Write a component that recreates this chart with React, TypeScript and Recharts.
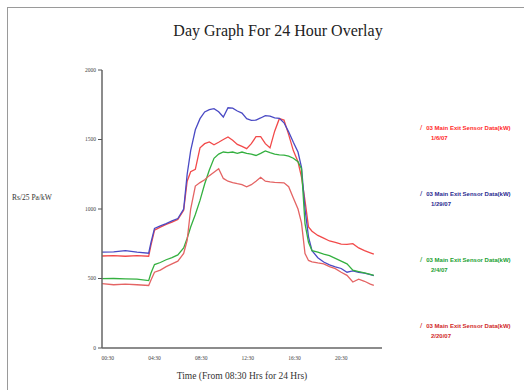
import React from 'react';
import { LineChart, Line, XAxis, YAxis } from 'recharts';

const hours = [0, 1, 2, 3, 4, 4.2, 4.5, 5, 5.5, 6, 6.5, 7, 7.3, 7.6, 8, 8.4, 8.8, 9.2, 9.6, 10, 10.4, 10.8, 11.2, 11.6, 12, 12.4, 12.8, 13.2, 13.6, 14, 14.4, 14.8, 15.2, 15.6, 16, 16.4, 16.8, 17.1, 17.4, 17.7, 18, 18.5, 19, 19.5, 20, 20.5, 21, 21.5, 22, 22.5, 23, 23.3];

const seriesRedUpper = [662, 665, 660, 665, 660, 740, 847, 870, 890, 905, 925, 990, 1200, 1268, 1285, 1440, 1470, 1482, 1462, 1480, 1500, 1518, 1495, 1465, 1450, 1434, 1470, 1520, 1520, 1470, 1440, 1560, 1650, 1640, 1535, 1420, 1340, 1230, 1060, 871, 840, 810, 790, 770, 760, 748, 745, 751, 720, 700, 685, 675];
const seriesBlue = [690, 692, 700, 690, 682, 760, 860, 878, 895, 915, 931, 1000, 1250, 1420, 1570, 1650, 1698, 1715, 1722, 1700, 1662, 1728, 1725, 1705, 1690, 1650, 1638, 1640, 1655, 1672, 1668, 1656, 1652, 1620, 1555, 1480, 1410, 1300, 1000, 800, 700, 650, 619, 598, 583, 572, 545, 555, 545, 538, 528, 520];
const seriesGreen = [499, 500, 498, 495, 485, 540, 600, 615, 635, 650, 670, 720, 790, 870, 960, 1062, 1180, 1280, 1365, 1395, 1410, 1405, 1410, 1400, 1410, 1400, 1395, 1385, 1400, 1418, 1405, 1395, 1390, 1388, 1380, 1365, 1340, 1290, 895, 760, 700, 690, 675, 665, 645, 625, 605, 560, 550, 540, 530, 523];
const seriesRedLower = [463, 455, 460, 455, 450, 490, 545, 560, 585, 605, 625, 680, 775, 1000, 1165, 1190, 1210, 1240, 1265, 1290, 1220, 1200, 1190, 1182, 1175, 1160, 1175, 1200, 1228, 1200, 1195, 1192, 1190, 1188, 1160, 1080, 1000, 900, 680, 630, 620, 612, 605, 585, 571, 545, 523, 475, 495, 480, 460, 451];

const xTickHours = [0.5, 4.5, 8.5, 12.5, 16.5, 20.5];
const xTickLabels = ['00:30', '04:30', '08:30', '12:30', '16:30', '20:30'];
const yTicks = [0, 500, 1000, 1500, 2000];

const legendNames = ['03 Main Exit Sensor Data(kW)', '03 Main Exit Sensor Data(kW)', '03 Main Exit Sensor Data(kW)', '03 Main Exit Sensor Data(kW)'];
const legendDates = ['1/6/07', '1/29/07', '2/4/07', '2/20/07'];
const legendColors = ['#ff2a2a', '#2a2a90', '#20a030', '#d02828'];
const lineColors = ['#f24a4a', '#4a4ac4', '#34b040', '#e46464'];
const seriesKeys = ['s1', 's2', 's3', 's4'];

const data = hours.map((t, i) => ({
  t,
  s1: seriesRedUpper[i],
  s2: seriesBlue[i],
  s3: seriesGreen[i],
  s4: seriesRedLower[i],
}));

const serif = '"Liberation Serif", "DejaVu Serif", serif';

export default function App() {
  return (
    <div style={{ position: 'absolute', left: 0, top: 0, width: 524, height: 390, background: '#fff', overflow: 'hidden', fontFamily: serif }}>
      <div style={{ position: 'absolute', left: 7, top: 7, width: 516, height: 382, borderTop: '1px solid #9a9a9a', borderLeft: '1px solid #9a9a9a' }} />
      <div style={{ position: 'absolute', left: 0, top: 22, width: 556, textAlign: 'center', fontSize: 16, color: '#222', whiteSpace: 'nowrap' }}>
        Day Graph For 24 Hour Overlay
      </div>
      <div style={{ position: 'absolute', left: 12, top: 193, fontSize: 7.5, color: '#333', whiteSpace: 'nowrap' }}>Rs/25 Pa/kW</div>
      <div style={{ position: 'absolute', left: 0, top: 371, width: 484, textAlign: 'center', fontSize: 9.5, color: '#333', whiteSpace: 'nowrap' }}>
        Time (From 08:30 Hrs for 24 Hrs)
      </div>
      <div style={{ position: 'absolute', left: 0, top: 0 }}>
        <LineChart width={524} height={390} data={data} margin={{ top: 70, right: 142, bottom: 12, left: 72 }}>
          <XAxis
            dataKey="t"
            type="number"
            domain={[0, 24]}
            ticks={xTickHours}
            tickFormatter={(v: number) => xTickLabels[xTickHours.indexOf(v)]}
            tickLine={false}
            axisLine={{ stroke: '#666', strokeWidth: 1.5 }}
            tick={{ fontSize: 5.5, fill: '#444', fontFamily: serif }}
            height={30}
            interval={0}
          />
          <YAxis
            type="number"
            domain={[0, 2000]}
            ticks={yTicks}
            tickSize={4}
            tickLine={{ stroke: '#555' }}
            axisLine={{ stroke: '#666', strokeWidth: 1.5 }}
            tick={{ fontSize: 5.5, fill: '#444', fontFamily: serif }}
            width={30}
            interval={0}
          />
          {seriesKeys.map((k, i) => (
            <Line key={k} type="linear" dataKey={k} stroke={lineColors[i]} strokeWidth={1.3} dot={false} isAnimationActive={false} />
          ))}
        </LineChart>
      </div>
      {legendNames.map((name, i) => (
        <div key={i} style={{ position: 'absolute', left: 420, top: 123 + i * 66, color: legendColors[i], fontFamily: '"Liberation Sans Narrow", "Liberation Sans", sans-serif', fontSize: 6, fontWeight: 'bold', lineHeight: '10px', whiteSpace: 'nowrap' }}>
          <span style={{ fontSize: 8, fontWeight: 'normal', marginRight: 4 }}>/</span>
          <span>{name}</span>
          <div style={{ marginLeft: 11 }}>{legendDates[i]}</div>
        </div>
      ))}
    </div>
  );
}
